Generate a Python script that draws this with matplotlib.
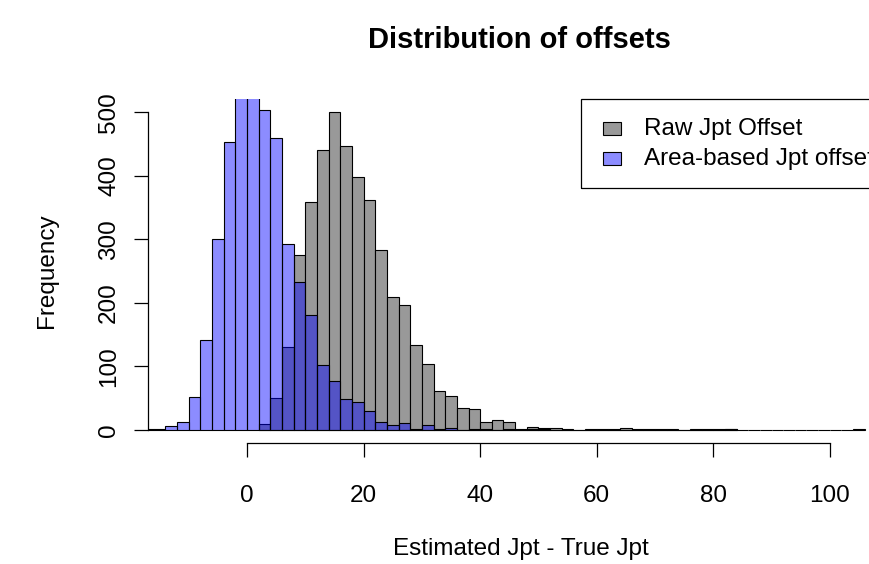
import numpy as np
import matplotlib.pyplot as plt
from matplotlib.patches import Rectangle

plt.rcParams['font.family'] = ['Liberation Sans', 'DejaVu Sans']

# bin width 2, counts
raw_start = 2
raw_counts = [9, 50, 131, 275, 359, 441, 500, 447, 398, 361, 283, 209, 196, 134,
              104, 61, 53, 35, 33, 12, 16, 12, 1, 4, 3, 3, 1, 0, 2, 1, 1, 3, 1, 1,
              1, 1, 0, 1, 1, 1, 1, 0, 0, 0, 0, 0, 0, 0, 0, 0, 0, 1]
area_start = -18
area_counts = [1, 2, 6, 13, 51, 141, 300, 453, 560, 545, 504, 460, 293, 233, 180,
               102, 77, 48, 43, 30, 13, 8, 10, 1, 8, 1, 3, 0, 1, 1, 0, 1, 0, 2, 1,
               0, 0, 0, 0, 0, 0, 0, 0, 0, 0, 0, 0, 0, 0, 0, 1]
legend_labels = ["Raw Jpt Offset", "Area-based Jpt offset"]
x_ticks = [0, 20, 40, 60, 80, 100]
y_ticks = [0, 100, 200, 300, 400, 500]

raw_col = "#999999"
area_col = (0, 0, 1, 0.45)

fig = plt.figure(figsize=(8.7, 5.64), dpi=100)
ax = fig.add_axes([148 / 870, 121 / 564, 1 - 148 / 870, 344 / 564])

raw_edges = raw_start + 2 * np.arange(len(raw_counts))
area_edges = area_start + 2 * np.arange(len(area_counts))
ax.bar(raw_edges, raw_counts, width=2, align='edge', color=raw_col,
       edgecolor='black', linewidth=0.8)
ax.bar(area_edges, area_counts, width=2, align='edge', color=area_col,
       edgecolor='black', linewidth=0.8)

ax.set_xlim(-17.0, 106.9)
ax.set_ylim(-20.8, 520.8)
ax.set_xticks(x_ticks)
ax.set_yticks(y_ticks)
for s in ['top', 'right']:
    ax.spines[s].set_visible(False)
ax.spines['left'].set_bounds(0, 500)
ax.spines['bottom'].set_bounds(0, 100)
ax.spines['left'].set_linewidth(0.9)
ax.spines['bottom'].set_linewidth(0.9)
ax.tick_params(axis='x', length=10, width=0.9, pad=20, labelsize=17.5)
ax.tick_params(axis='y', length=10, width=0.9, pad=10, labelsize=17.5)
for lbl in ax.get_yticklabels():
    lbl.set_rotation(90)
    lbl.set_va('center')

fig.text(519 / 870, 1 - 40 / 564, "Distribution of offsets", ha='center', va='center',
         fontsize=21, fontweight='bold')
fig.text(521 / 870, 1 - 549 / 564, "Estimated Jpt - True Jpt", ha='center', va='center',
         fontsize=17.5)
fig.text(47 / 870, 1 - 271 / 564, "Frequency", ha='center', va='center',
         rotation=90, fontsize=17.5)

# legend box, cut off by the right edge like the original
fig.patches.append(Rectangle((581 / 870, 1 - 188 / 564), 330 / 870, 89 / 564,
                             transform=fig.transFigure, fill=False,
                             edgecolor='black', linewidth=0.9))
for i, (lab, col) in enumerate(zip(legend_labels, [raw_col, area_col])):
    yc = 128.5 + 30 * i
    fig.patches.append(Rectangle((603 / 870, 1 - (yc + 6.5) / 564), 18 / 870, 13 / 564,
                                 transform=fig.transFigure, facecolor=col,
                                 edgecolor='black', linewidth=0.8))
    fig.text(644 / 870, 1 - yc / 564, lab, ha='left', va='center', fontsize=17.5)

fig.savefig("out.png", dpi=100)
